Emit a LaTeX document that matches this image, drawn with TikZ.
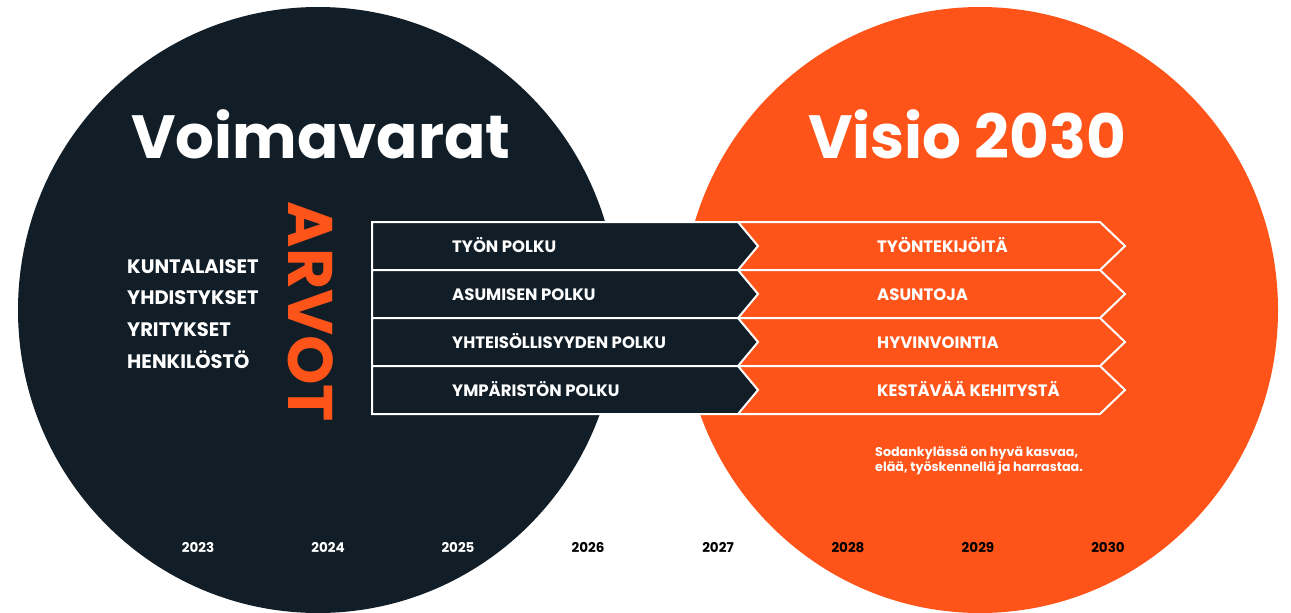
\documentclass[tikz,border=0pt]{standalone}
\usepackage{fontspec}
\setmainfont{Poppins}
\usepackage{tikz}

\definecolor{navy}{HTML}{111D27}
\definecolor{flame}{HTML}{FF5419}

\newcommand{\fsz}[1]{\bfseries\fontsize{#1}{#1}\selectfont}

\begin{document}
\begin{tikzpicture}[x=1pt,y=-1pt,inner sep=0pt,
    title/.style={font=\fsz{61},text=white,anchor=base},
    item/.style={font=\fsz{19.5},text=white,anchor=base west},
    pathtext/.style={font=\fsz{16.5},text=white,anchor=base west},
    yearnum/.style={font=\fsz{13.5},anchor=base},
    rowline/.style={white,line width=2pt,line join=miter}]
  \useasboundingbox[fill=white] (0,0) rectangle (1291,613);

  \fill[navy] (318,310) ellipse [x radius=300,y radius=303];
  \fill[flame] (980,310) ellipse [x radius=298,y radius=303];

  \node[title] (voima) at (321,158) {Voimavarat};
  \node[title] (visio) at (967,158) {Visio 2030};

  \node[font=\fsz{63},text=flame,rotate=-90,anchor=base] (arvot) at (288,312) {ARVOT};

  \foreach \txt [count=\i] in {KUNTALAISET,YHDISTYKSET,YRITYKSET,HENKILÖSTÖ}
    \node[item] (res\i) at (127,241.5+31.7*\i) {\txt};

  \foreach \lt/\rt [count=\i] in {TYÖN POLKU/TYÖNTEKIJÖITÄ,ASUMISEN POLKU/ASUNTOJA,
      YHTEISÖLLISYYDEN POLKU/HYVINVOINTIA,YMPÄRISTÖN POLKU/KESTÄVÄÄ KEHITYSTÄ}{
    \pgfmathsetmacro\ya{174+48*\i}
    \pgfmathsetmacro\yb{\ya+48}
    \pgfmathsetmacro\ym{\ya+24}
    \fill[navy] (372,\ya) -- (738,\ya) -- (758,\ym) -- (738,\yb) -- (372,\yb) -- cycle;
    \fill[flame] (738,\ya) -- (1100,\ya) -- (1125,\ym) -- (1100,\yb) -- (738,\yb) -- (758,\ym) -- cycle;
    \draw[rowline] (372,\ya) -- (1100,\ya) -- (1125,\ym) -- (1100,\yb) -- (372,\yb) -- cycle;
    \draw[rowline] (738,\ya) -- (758,\ym) -- (738,\yb);
    \node[pathtext] (path\i) at (452,\ym+6) {\lt};
    \node[pathtext] (goal\i) at (877,\ym+6) {\rt};
  }

  \node[font=\fsz{12.7},text=white,anchor=north west,align=left] (motto) at (875,447)
    {Sodankylässä on hyvä kasvaa,\\[0.5pt]elää, työskennellä ja harrastaa.};

  \foreach \yr/\c [count=\i from 0] in {2023/white,2024/white,2025/white,2026/black,
      2027/black,2028/black,2029/black,2030/black}
    \node[yearnum,text=\c] (y\yr) at (198+130*\i,552) {\yr};
\end{tikzpicture}
\end{document}
